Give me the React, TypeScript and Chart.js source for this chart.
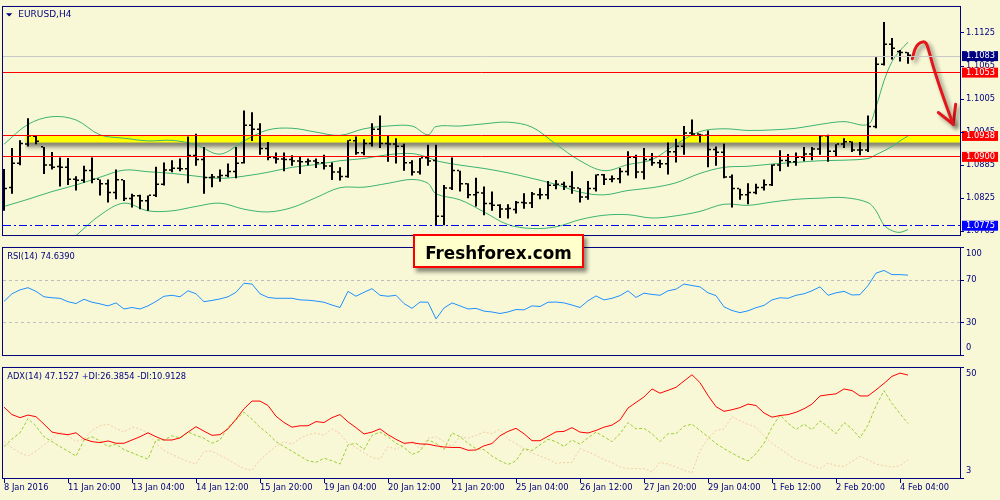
import React, { useEffect, useRef } from 'react';
import { Chart, registerables } from 'chart.js';

// Drop shadow for datasets that carry a `shadow` entry. It is registered before the
// built-in plugins so the filler paints its area while the shadow is active.
const datasetShadow = {
  id: 'datasetShadow',
  beforeDatasetDraw(chart: any, args: any) {
    const s = chart.data.datasets[args.index]?.shadow;
    if (!s) return;
    const ctx = chart.ctx;
    ctx.save();
    ctx.shadowColor = s.color;
    ctx.shadowBlur = s.blur;
    ctx.shadowOffsetX = s.dx;
    ctx.shadowOffsetY = s.dy;
  },
  afterDatasetDraw(chart: any, args: any) {
    if (chart.data.datasets[args.index]?.shadow) chart.ctx.restore();
  },
};
Chart.register(datasetShadow);
Chart.register(...registerables);

// ---------------- EURUSD H4 prices ----------------
const opens = [
  1.0834, 1.0843, 1.0887, 1.0922, 1.0936, 1.0917, 1.0884, 1.0881, 1.0880, 1.0858,
  1.0856, 1.0874, 1.0858, 1.0850, 1.0834, 1.0857, 1.0823, 1.0828, 1.0819, 1.0829,
  1.0849, 1.0875, 1.0878, 1.0877, 1.0901, 1.0894, 1.0861, 1.0862, 1.0865, 1.0872,
  1.0888, 1.0956, 1.0949, 1.0914, 1.0897, 1.0895, 1.0894, 1.0891, 1.0890, 1.0891,
  1.0888, 1.0882, 1.0871, 1.0863, 1.0928, 1.0906, 1.0923, 1.0949, 1.0923, 1.0922,
  1.0918, 1.0888, 1.0871, 1.0897, 1.0892, 1.0791, 1.0842, 1.0874, 1.0850, 1.0830,
  1.0833, 1.0814, 1.0811, 1.0804, 1.0803, 1.0816, 1.0815, 1.0830, 1.0830, 1.0847,
  1.0849, 1.0845, 1.0842, 1.0826, 1.0841, 1.0866, 1.0858, 1.0859, 1.0872, 1.0898,
  1.0871, 1.0894, 1.0888, 1.0886, 1.0908, 1.0918, 1.0942, 1.0940, 1.0938, 1.0912,
  1.0907, 1.0862, 1.0841, 1.0830, 1.0834, 1.0843, 1.0848, 1.0884, 1.0892, 1.0890,
  1.0898, 1.0904, 1.0913, 1.0937, 1.0909, 1.0922, 1.0926, 1.0911, 1.0911, 1.0954,
  1.1067, 1.1103, 1.1090, 1.1088,
];
const highs = [
  1.0878, 1.0916, 1.0930, 1.0970, 1.0938, 1.0918, 1.0909, 1.0899, 1.0898, 1.0865,
  1.0884, 1.0899, 1.0859, 1.0859, 1.0877, 1.0858, 1.0833, 1.0831, 1.0830, 1.0882,
  1.0890, 1.0894, 1.0897, 1.0937, 1.0942, 1.0918, 1.0869, 1.0877, 1.0888, 1.0918,
  1.0984, 1.0981, 1.0961, 1.0927, 1.0908, 1.0908, 1.0903, 1.0900, 1.0897, 1.0897,
  1.0904, 1.0890, 1.0881, 1.0930, 1.0937, 1.0932, 1.0961, 1.0975, 1.0939, 1.0934,
  1.0924, 1.0894, 1.0898, 1.0922, 1.0922, 1.0849, 1.0899, 1.0875, 1.0852, 1.0862,
  1.0846, 1.0837, 1.0814, 1.0814, 1.0820, 1.0834, 1.0836, 1.0843, 1.0856, 1.0858,
  1.0855, 1.0874, 1.0843, 1.0856, 1.0868, 1.0869, 1.0866, 1.0880, 1.0910, 1.0904,
  1.0916, 1.0907, 1.0895, 1.0926, 1.0933, 1.0956, 1.0968, 1.0942, 1.0948, 1.0919,
  1.0924, 1.0868, 1.0842, 1.0852, 1.0851, 1.0859, 1.0886, 1.0912, 1.0905, 1.0908,
  1.0918, 1.0918, 1.0939, 1.0940, 1.0923, 1.0934, 1.0928, 1.0927, 1.0975, 1.1081,
  1.1145, 1.1116, 1.1094, 1.1090,
];
const lows = [
  1.0802, 1.0833, 1.0885, 1.0919, 1.0923, 1.0869, 1.0877, 1.0846, 1.0849, 1.0839,
  1.0853, 1.0852, 1.0830, 1.0817, 1.0823, 1.0820, 1.0808, 1.0805, 1.0802, 1.0827,
  1.0848, 1.0872, 1.0874, 1.0852, 1.0884, 1.0833, 1.0845, 1.0855, 1.0863, 1.0861,
  1.0888, 1.0929, 1.0904, 1.0894, 1.0888, 1.0874, 1.0884, 1.0869, 1.0885, 1.0880,
  1.0877, 1.0858, 1.0857, 1.0862, 1.0904, 1.0903, 1.0919, 1.0916, 1.0891, 1.0888,
  1.0875, 1.0866, 1.0868, 1.0884, 1.0775, 1.0776, 1.0840, 1.0837, 1.0825, 1.0810,
  1.0794, 1.0802, 1.0789, 1.0788, 1.0797, 1.0806, 1.0807, 1.0823, 1.0823, 1.0841,
  1.0840, 1.0833, 1.0817, 1.0822, 1.0837, 1.0849, 1.0854, 1.0852, 1.0866, 1.0861,
  1.0859, 1.0884, 1.0880, 1.0868, 1.0890, 1.0904, 1.0938, 1.0926, 1.0881, 1.0884,
  1.0861, 1.0808, 1.0822, 1.0814, 1.0832, 1.0839, 1.0847, 1.0874, 1.0882, 1.0884,
  1.0892, 1.0894, 1.0904, 1.0891, 1.0901, 1.0916, 1.0909, 1.0903, 1.0909, 1.0952,
  1.1066, 1.1077, 1.1073, 1.1069,
];
const closes = [
  1.0841, 1.0887, 1.0923, 1.0937, 1.0927, 1.0884, 1.0880, 1.0880, 1.0858, 1.0856,
  1.0874, 1.0858, 1.0850, 1.0834, 1.0857, 1.0823, 1.0828, 1.0819, 1.0829, 1.0849,
  1.0875, 1.0878, 1.0877, 1.0901, 1.0894, 1.0861, 1.0862, 1.0865, 1.0872, 1.0887,
  1.0956, 1.0949, 1.0914, 1.0898, 1.0895, 1.0894, 1.0891, 1.0890, 1.0891, 1.0888,
  1.0882, 1.0871, 1.0863, 1.0929, 1.0906, 1.0923, 1.0949, 1.0923, 1.0922, 1.0918,
  1.0888, 1.0871, 1.0897, 1.0891, 1.0791, 1.0842, 1.0874, 1.0850, 1.0830, 1.0834,
  1.0814, 1.0811, 1.0804, 1.0805, 1.0816, 1.0815, 1.0831, 1.0830, 1.0847, 1.0849,
  1.0845, 1.0842, 1.0826, 1.0841, 1.0866, 1.0858, 1.0859, 1.0872, 1.0898, 1.0871,
  1.0894, 1.0888, 1.0886, 1.0908, 1.0918, 1.0942, 1.0940, 1.0938, 1.0912, 1.0907,
  1.0862, 1.0841, 1.0830, 1.0834, 1.0843, 1.0848, 1.0884, 1.0892, 1.0890, 1.0898,
  1.0904, 1.0913, 1.0937, 1.0909, 1.0922, 1.0926, 1.0911, 1.0911, 1.0954, 1.1067,
  1.1103, 1.1096, 1.1088, 1.1083,
];

// Bollinger Bands (20, 2), read at these bar numbers
const bandBars = [
  0, 3, 6, 9, 12, 15, 18, 21, 24, 27, 30, 33, 36, 39, 42, 45, 48, 51, 53, 54,
  57, 60, 63, 66, 69, 72, 75, 78, 81, 84, 87, 90, 93, 96, 99, 102, 105, 108,
  109, 110, 111, 112, 113,
];
const bbUpper = [
  1.0923, 1.0959, 1.0973, 1.0967, 1.0940, 1.0934, 1.0929, 1.0930, 1.0922, 1.0905,
  1.0929, 1.0949, 1.0952, 1.0945, 1.0939, 1.0951, 1.0956, 1.0956, 1.0940, 1.0955,
  1.0956, 1.0960, 1.0963, 1.0954, 1.0923, 1.0893, 1.0875, 1.0886, 1.0895, 1.0923,
  1.0946, 1.0951, 1.0948, 1.0949, 1.0952, 1.0959, 1.0964, 1.0959,
  1.0991, 1.1038, 1.1073, 1.1093, 1.1108,
];
const bbMiddle = [
  1.0810, 1.0823, 1.0837, 1.0849, 1.0863, 1.0876, 1.0873, 1.0870, 1.0865, 1.0861,
  1.0865, 1.0872, 1.0881, 1.0886, 1.0893, 1.0897, 1.0904, 1.0906, 1.0899, 1.0893,
  1.0885, 1.0879, 1.0871, 1.0861, 1.0850, 1.0836, 1.0831, 1.0839, 1.0844, 1.0853,
  1.0870, 1.0881, 1.0883, 1.0887, 1.0890, 1.0893, 1.0894, 1.0897,
  1.0904, 1.0911, 1.0919, 1.0929, 1.0938,
];
const bbLower = [
  1.0672, 1.0689, 1.0718, 1.0757, 1.0794, 1.0816, 1.0802, 1.0802, 1.0810, 1.0816,
  1.0805, 1.0800, 1.0808, 1.0826, 1.0844, 1.0845, 1.0852, 1.0859, 1.0852, 1.0833,
  1.0822, 1.0800, 1.0777, 1.0770, 1.0773, 1.0786, 1.0794, 1.0795, 1.0789, 1.0793,
  1.0801, 1.0814, 1.0812, 1.0818, 1.0823, 1.0825, 1.0826, 1.0817,
  1.0802, 1.0776, 1.0766, 1.0763, 1.0768,
];

// RSI(14)
const rsi = [
  50.1, 57.2, 60.9, 62.9, 59.5, 54.4, 53.5, 53.0, 49.8, 48.1,
  52.1, 49.3, 47.8, 45.9, 48.7, 43.0, 44.4, 43.0, 45.9, 50.1,
  54.9, 55.8, 54.4, 60.0, 57.2, 49.8, 51.0, 52.4, 54.4, 58.6,
  67.1, 66.3, 57.2, 53.8, 53.0, 53.0, 53.0, 51.5, 51.2, 50.4,
  49.3, 46.7, 44.4, 59.5, 54.9, 58.6, 62.0, 55.8, 54.9, 55.8,
  48.1, 43.6, 49.5, 49.3, 33.7, 43.9, 48.7, 45.9, 43.0, 43.6,
  41.0, 40.2, 38.8, 40.2, 42.5, 42.2, 45.9, 45.3, 49.3, 49.5,
  48.7, 46.7, 44.4, 50.7, 55.2, 51.5, 53.0, 55.5, 60.0, 53.8,
  57.8, 56.6, 55.8, 60.0, 61.5, 66.3, 64.9, 63.7, 58.1, 55.5,
  45.0, 41.6, 39.6, 41.3, 44.2, 46.4, 51.5, 53.5, 53.0, 55.8,
  57.2, 60.0, 63.7, 55.8, 58.1, 59.5, 56.1, 56.4, 64.9, 76.5,
  79.0, 75.1, 75.1, 74.639,
];
const rsiLevels = [70, 30];

// ADX(14) with +DI / -DI
const adx = [
  33.4, 30.2, 28.9, 30.0, 29.3, 26.1, 22.7, 22.0, 21.6, 22.4,
  19.7, 18.6, 18.2, 18.9, 17.9, 17.9, 19.3, 20.7, 22.4, 20.7,
  19.3, 19.3, 20.2, 22.7, 25.0, 23.1, 21.3, 21.6, 24.1, 28.2,
  32.7, 36.0, 36.0, 34.1, 29.5, 26.8, 24.8, 25.4, 25.4, 27.2,
  26.8, 28.9, 30.2, 27.1, 24.6, 21.9, 22.7, 24.1, 21.6, 19.6,
  17.9, 18.2, 17.6, 17.5, 16.8, 16.3, 16.1, 16.1, 14.9, 15.0,
  16.8, 17.8, 21.1, 23.0, 24.3, 22.0, 19.0, 19.0, 20.9, 22.8,
  23.0, 24.6, 22.7, 22.3, 23.4, 24.8, 25.7, 27.9, 33.0, 35.4,
  37.8, 41.2, 39.4, 40.6, 41.9, 44.6, 47.3, 43.9, 38.4, 33.6,
  31.6, 32.3, 33.2, 34.7, 34.1, 30.9, 29.1, 29.8, 30.2, 31.2,
  32.7, 34.7, 38.2, 38.7, 39.1, 41.2, 40.5, 38.2, 38.2, 40.8,
  43.6, 46.6, 48.0, 47.1527,
];
const plusDi = [
  16.5, 19.7, 22.4, 28.5, 25.2, 20.7, 18.6, 16.5, 14.5, 12.4,
  19.3, 20.7, 18.9, 16.5, 17.5, 15.2, 13.8, 12.4, 11.1, 19.3,
  19.3, 21.1, 20.2, 22.7, 21.3, 20.0, 17.9, 19.3, 24.8, 27.9,
  31.2, 28.2, 24.8, 22.0, 18.6, 16.5, 14.5, 12.4, 10.4, 9.7,
  11.5, 10.4, 9.0, 17.2, 17.9, 15.2, 21.3, 22.7, 20.7, 17.9,
  16.1, 13.1, 14.5, 19.3, 17.9, 15.2, 22.4, 20.7, 17.9, 15.6,
  15.2, 12.4, 10.4, 8.8, 10.4, 15.6, 14.8, 17.2, 19.6, 18.6,
  16.5, 19.3, 17.5, 20.2, 22.7, 20.7, 18.6, 22.0, 26.8, 24.1,
  24.3, 22.0, 18.6, 22.0, 22.0, 25.2, 26.1, 23.4, 20.7, 17.8,
  15.6, 13.7, 11.8, 10.3, 13.4, 17.9, 24.8, 30.0, 26.5, 23.8,
  26.1, 23.7, 27.5, 25.0, 22.0, 26.8, 24.1, 20.2, 25.7, 33.9,
  40.5, 35.0, 30.6, 26.3854,
];
const minusDi = [
  18.6, 15.9, 13.8, 12.4, 14.5, 17.2, 19.7, 22.7, 21.1, 18.6,
  19.7, 23.4, 25.4, 26.1, 24.3, 22.7, 24.8, 24.1, 22.2, 17.9,
  14.8, 13.1, 11.5, 10.0, 9.0, 14.5, 14.5, 12.7, 10.9, 8.8,
  7.0, 6.3, 10.7, 13.8, 16.7, 18.6, 17.5, 20.0, 21.6, 22.3,
  21.3, 24.1, 22.0, 17.9, 16.1, 13.8, 11.8, 11.1, 16.5, 15.2,
  17.2, 18.9, 15.6, 20.0, 20.7, 18.6, 16.5, 20.7, 20.0, 21.3,
  22.7, 22.0, 23.8, 19.7, 17.8, 15.6, 13.8, 12.4, 11.2, 9.3,
  9.6, 9.7, 15.6, 14.2, 12.7, 10.8, 9.6, 7.7, 7.0, 7.0,
  7.0, 5.6, 9.7, 9.0, 7.7, 6.3, 5.2, 14.8, 20.0, 23.4,
  24.1, 29.3, 27.5, 26.0, 24.8, 21.1, 17.9, 15.6, 13.1, 10.9,
  9.7, 8.3, 7.0, 9.4, 8.3, 7.9, 10.1, 12.4, 10.8, 9.0,
  8.3, 7.7, 8.3, 10.9128,
];

// Time axis labels, one every eight H4 bars
const timeLabels = [
  '8 Jan 2016', '11 Jan 20:00', '13 Jan 04:00', '14 Jan 12:00', '15 Jan 20:00',
  '19 Jan 04:00', '20 Jan 12:00', '21 Jan 20:00', '25 Jan 04:00', '26 Jan 12:00',
  '27 Jan 20:00', '29 Jan 04:00', '1 Feb 12:00', '2 Feb 20:00', '4 Feb 04:00',
];
const BARS_PER_LABEL = 8;

// Price axis scale marks and marked levels
const priceTicks = [1.1125, 1.1065, 1.1005, 1.0945, 1.0885, 1.0825, 1.0765];
const bid = closes[closes.length - 1];
const levelPrices = [bid, 1.1053, 1.0938, 1.09];
const supportLevels = [1.0775];

// Highlighted resistance zone
const zoneTop = 1.0938;
const zoneBottom = 1.0926;
const zoneFromBar = 2.65;

// Hand-drawn forecast arrow (bar number, price)
const arrowX = [113.54, 113.88, 114.29, 114.84, 115.25, 115.54, 116.16, 117.0, 117.84, 118.66];
const arrowY = [1.10783, 1.10958, 1.11046, 1.11088, 1.11063, 1.10958, 1.10638, 1.10259, 1.0991, 1.0959];
const headX = [116.79, 118.66, 118.96];
const headY = [1.09805, 1.0959, 1.09957];

// ---------------- styling ----------------
const BG = '#F8F8D6';
const NAVY = '#000080';
const FONT = '"DejaVu Sans", Tahoma, sans-serif';
const AXIS_FONT = { family: FONT, size: 8.3, lineHeight: 1.2 };
const X_MIN = -0.125;
const X_MAX = 119.5;
const PRICE_MIN = 1.07581;
const PRICE_MAX = 1.11722;
const ADX_MIN = 3;
const ADX_MAX = 50.2;
const levelLineColors = ['#C8C8C8', '#FF0000', '#FF0000', '#FF0000'];
const levelBoxColors = [NAVY, '#FF0000', '#FF0000', '#FF0000'];
const supportColor = '#0000FF';

const same = (a: number, b: number) => Math.abs(a - b) < 1e-9;
const levelIndex = (v: any) => (typeof v === 'number' ? levelPrices.findIndex((p) => same(p, v)) : -1);
const isSupport = (v: any) => typeof v === 'number' && supportLevels.some((p) => same(p, v));
const isMarked = (v: any) => levelIndex(v) >= 0 || isSupport(v);

// Panel frame, caption and edge values of the indicator scales
const panelDecor = {
  id: 'panelDecor',
  afterDraw(chart: any, _args: any, o: any) {
    const { ctx, chartArea: a } = chart;
    ctx.save();
    ctx.strokeStyle = NAVY;
    ctx.lineWidth = 1;
    ctx.strokeRect(a.left - 0.5, a.top - 0.5, a.right - a.left + 1, a.bottom - a.top + 1);
    ctx.fillStyle = NAVY;
    ctx.textAlign = 'left';
    ctx.textBaseline = 'middle';
    if (o.title) {
      ctx.font = `${o.titleSize}px ${FONT}`;
      ctx.fillText(o.title, a.left + o.titleX, a.top + o.titleY);
    }
    if (o.triangle) {
      ctx.beginPath();
      ctx.moveTo(a.left + 3, a.top + 6.3);
      ctx.lineTo(a.left + 9.3, a.top + 6.3);
      ctx.lineTo(a.left + 6.15, a.top + 9.4);
      ctx.closePath();
      ctx.fill();
    }
    if (o.edgeLabels) {
      const s = chart.scales.y;
      ctx.font = `8.3px ${FONT}`;
      ctx.fillText(String(Math.round(s.max)), a.right + 6, a.top + 6.3);
      ctx.fillText(String(Math.round(s.min)), a.right + 6, a.bottom - 6.7);
    }
    ctx.restore();
  },
};

const xScale = (show: boolean) => ({
  type: 'linear',
  min: X_MIN,
  max: X_MAX,
  offset: false,
  stacked: false,
  display: show,
  position: 'bottom',
  afterBuildTicks: (s: any) => {
    s.ticks = timeLabels.map((_, k) => ({ value: k * BARS_PER_LABEL }));
  },
  afterFit: (s: any) => {
    s.height = show ? 22 : 0;
    s.paddingLeft = 0;
    s.paddingRight = 0;
  },
  grid: { offset: false, drawOnChartArea: false, drawTicks: true, tickLength: 5, tickColor: NAVY, color: NAVY },
  border: { display: false },
  ticks: {
    autoSkip: false,
    maxRotation: 0,
    minRotation: 0,
    align: 'start',
    padding: 0,
    color: NAVY,
    font: AXIS_FONT,
    callback: (_v: any, i: number) => timeLabels[i],
  },
});

const baseOptions = (padding: any) => ({
  responsive: false,
  animation: false,
  devicePixelRatio: 1,
  events: [],
  layout: { padding },
});

const points = (xs: number[], ys: number[]) => xs.map((x, k) => ({ x, y: ys[k] }));
const series = (ys: number[]) => ys.map((y, i) => ({ x: i, y }));
const flatBars = (ys: number[]) => ys.map((y, i) => ({ x: i, y: [y, y] }));

function priceConfig(): any {
  const barStyle = { backgroundColor: '#000000', barThickness: 2, inflateAmount: 0, borderWidth: 0, order: 0 };
  const lineStyle = { pointRadius: 0, pointHitRadius: 0, fill: false };
  const arrowShadow = { color: 'rgba(0,0,0,0.45)', blur: 4, dx: 3, dy: 3 };
  return {
    type: 'bar',
    data: {
      datasets: [
        { label: 'Open', stack: 'open', data: flatBars(opens), minBarLength: 1.5, ...barStyle },
        { label: 'Range', stack: 'range', data: lows.map((l, i) => ({ x: i, y: [l, highs[i]] })), ...barStyle },
        { label: 'Close', stack: 'close', data: flatBars(closes), minBarLength: 1.5, ...barStyle },
        {
          type: 'line', label: 'Forecast', data: points(arrowX, arrowY), borderColor: '#E3161B', borderWidth: 3,
          tension: 0.4, borderCapStyle: 'round', borderJoinStyle: 'round', shadow: arrowShadow, order: -1, ...lineStyle,
        },
        {
          type: 'line', label: 'Forecast head', data: points(headX, headY), borderColor: '#E3161B', borderWidth: 3,
          tension: 0, borderCapStyle: 'round', borderJoinStyle: 'round', shadow: arrowShadow, order: -1, ...lineStyle,
        },
        { type: 'line', label: 'BB upper', data: points(bandBars, bbUpper), borderColor: '#3CB371', borderWidth: 1, tension: 0.35, order: 1, ...lineStyle },
        { type: 'line', label: 'BB middle', data: points(bandBars, bbMiddle), borderColor: '#3CB371', borderWidth: 1, tension: 0.35, order: 2, ...lineStyle },
        { type: 'line', label: 'BB lower', data: points(bandBars, bbLower), borderColor: '#3CB371', borderWidth: 1, tension: 0.35, order: 3, ...lineStyle },
        {
          type: 'line', label: 'Zone',
          data: [{ x: zoneFromBar, y: zoneTop }, { x: X_MAX + 2, y: zoneTop }],
          borderWidth: 0, borderColor: 'transparent', backgroundColor: '#FFFF00', fill: '+1',
          pointRadius: 0, pointHitRadius: 0, order: 20,
          shadow: { color: 'rgba(0,0,0,0.55)', blur: 5, dx: 1, dy: 4 },
        },
        {
          type: 'line', label: 'Zone base',
          data: [{ x: zoneFromBar, y: zoneBottom }, { x: X_MAX + 2, y: zoneBottom }],
          borderWidth: 0, borderColor: 'transparent', order: 21, ...lineStyle,
        },
      ],
    },
    options: {
      ...baseOptions({ left: 3, right: 0, top: 3, bottom: 2 }),
      plugins: {
        legend: { display: false },
        tooltip: { enabled: false },
        colors: { enabled: false },
        filler: { drawTime: 'beforeDatasetDraw' },
        panelDecor: { title: 'EURUSD,H4', titleX: 15.3, titleY: 7.7, titleSize: 9, triangle: true },
      },
      scales: {
        x: xScale(false),
        y: {
          type: 'linear',
          position: 'right',
          min: PRICE_MIN,
          max: PRICE_MAX,
          stacked: false,
          beginAtZero: false,
          afterFit: (s: any) => { s.width = 40; },
          afterBuildTicks: (s: any) => {
            s.ticks = [...priceTicks, ...levelPrices, ...supportLevels].map((v) => ({ value: v }));
          },
          border: { display: false },
          grid: {
            z: 1,
            drawOnChartArea: true,
            drawTicks: true,
            tickLength: 4,
            lineWidth: 1,
            color: (c: any) => {
              const k = levelIndex(c.tick?.value);
              return k >= 0 ? levelLineColors[k] : 'transparent';
            },
            tickColor: (c: any) => (isMarked(c.tick?.value) ? 'transparent' : NAVY),
          },
          ticks: {
            autoSkip: false,
            padding: 2,
            font: AXIS_FONT,
            callback: (v: any) => Number(v).toFixed(4),
            color: (c: any) => (isMarked(c.tick?.value) ? '#FFFFFF' : NAVY),
            showLabelBackdrop: true,
            backdropColor: (c: any) => {
              const v = c.tick?.value;
              const k = levelIndex(v);
              if (k >= 0) return levelBoxColors[k];
              return isSupport(v) ? supportColor : 'transparent';
            },
            backdropPadding: { left: 4, right: 3, top: 0, bottom: 0 },
          },
        },
        yDash: {
          type: 'linear',
          position: 'left',
          min: PRICE_MIN,
          max: PRICE_MAX,
          stacked: false,
          afterFit: (s: any) => { s.width = 0; },
          afterBuildTicks: (s: any) => { s.ticks = supportLevels.map((v) => ({ value: v })); },
          border: { display: false, dash: [8, 3, 2, 3] },
          grid: { z: 1, color: supportColor, lineWidth: 1, drawTicks: false, tickLength: 0 },
          ticks: { display: false },
        },
      },
    },
    plugins: [panelDecor],
  };
}

function rsiConfig(): any {
  return {
    type: 'line',
    data: {
      datasets: [
        { label: 'RSI', data: series(rsi), borderColor: '#1E90FF', borderWidth: 1, tension: 0, pointRadius: 0, pointHitRadius: 0, fill: false },
      ],
    },
    options: {
      ...baseOptions({ left: 3, right: 0, top: 2, bottom: 2 }),
      plugins: {
        legend: { display: false },
        tooltip: { enabled: false },
        colors: { enabled: false },
        panelDecor: { title: `RSI(14) ${rsi[rsi.length - 1].toFixed(4)}`, titleX: 4.3, titleY: 8.7, titleSize: 8.3, edgeLabels: true },
      },
      scales: {
        x: xScale(false),
        y: {
          type: 'linear',
          position: 'right',
          min: 0,
          max: 100,
          afterFit: (s: any) => { s.width = 40; },
          afterBuildTicks: (s: any) => { s.ticks = [100, ...rsiLevels, 0].map((v) => ({ value: v })); },
          border: { display: false, dash: [3, 3] },
          grid: {
            drawTicks: true,
            tickLength: 4,
            tickColor: NAVY,
            color: (c: any) => (rsiLevels.includes(c.tick?.value) ? '#BDBDBD' : 'transparent'),
          },
          ticks: {
            autoSkip: false,
            padding: 2,
            color: NAVY,
            font: AXIS_FONT,
            callback: (v: any) => (rsiLevels.includes(v) ? String(v) : ''),
          },
        },
      },
    },
    plugins: [panelDecor],
  };
}

function adxConfig(): any {
  const style = { borderWidth: 1, tension: 0, pointRadius: 0, pointHitRadius: 0, fill: false };
  return {
    type: 'line',
    data: {
      datasets: [
        { label: 'ADX', data: series(adx), borderColor: '#FF0000', order: 0, ...style },
        { label: '+DI', data: series(plusDi), borderColor: '#9ACD32', borderDash: [3, 2], order: 1, ...style },
        { label: '-DI', data: series(minusDi), borderColor: '#F5C9A6', borderDash: [2, 2], order: 2, ...style },
      ],
    },
    options: {
      ...baseOptions({ left: 3, right: 0, top: 2, bottom: 0 }),
      plugins: {
        legend: { display: false },
        tooltip: { enabled: false },
        colors: { enabled: false },
        panelDecor: {
          title: `ADX(14) ${adx[adx.length - 1].toFixed(4)} +DI:${plusDi[plusDi.length - 1].toFixed(4)} -DI:${minusDi[minusDi.length - 1].toFixed(4)}`,
          titleX: 4.3,
          titleY: 9,
          titleSize: 8.3,
          edgeLabels: true,
        },
      },
      scales: {
        x: xScale(true),
        y: {
          type: 'linear',
          position: 'right',
          min: ADX_MIN,
          max: ADX_MAX,
          afterFit: (s: any) => { s.width = 40; },
          afterBuildTicks: (s: any) => { s.ticks = [ADX_MAX, ADX_MIN].map((v) => ({ value: v })); },
          border: { display: false },
          grid: { drawOnChartArea: false, drawTicks: true, tickLength: 4, tickColor: NAVY },
          ticks: { autoSkip: false, padding: 2, font: AXIS_FONT, callback: () => '' },
        },
      },
    },
    plugins: [panelDecor],
  };
}

export default function App() {
  const priceRef = useRef<HTMLCanvasElement>(null);
  const rsiRef = useRef<HTMLCanvasElement>(null);
  const adxRef = useRef<HTMLCanvasElement>(null);

  useEffect(() => {
    const charts = [
      new Chart(priceRef.current as HTMLCanvasElement, priceConfig()),
      new Chart(rsiRef.current as HTMLCanvasElement, rsiConfig()),
      new Chart(adxRef.current as HTMLCanvasElement, adxConfig()),
    ];
    return () => charts.forEach((c) => c.destroy());
  }, []);

  return (
    <div style={{ position: 'fixed', left: 0, top: 0, width: 1000, height: 500, background: BG, overflow: 'hidden' }}>
      <canvas ref={priceRef} width={1000} height={242} style={{ position: 'absolute', left: 0, top: 0 }} />
      <canvas ref={rsiRef} width={1000} height={121} style={{ position: 'absolute', left: 0, top: 241 }} />
      <canvas ref={adxRef} width={1000} height={139} style={{ position: 'absolute', left: 0, top: 361 }} />
      <div
        style={{
          position: 'absolute',
          left: 413,
          top: 234,
          width: 171,
          height: 34,
          boxSizing: 'border-box',
          border: '2px solid #FF0000',
          background: '#FFFFCC',
          boxShadow: '3px 4px 4px rgba(0,0,0,0.45)',
          display: 'flex',
          alignItems: 'center',
          justifyContent: 'center',
          paddingTop: 3,
          fontFamily: FONT,
          fontWeight: 'bold',
          fontSize: 16.8,
          color: '#000000',
          whiteSpace: 'nowrap',
        }}
      >
        Freshforex.com
      </div>
    </div>
  );
}
